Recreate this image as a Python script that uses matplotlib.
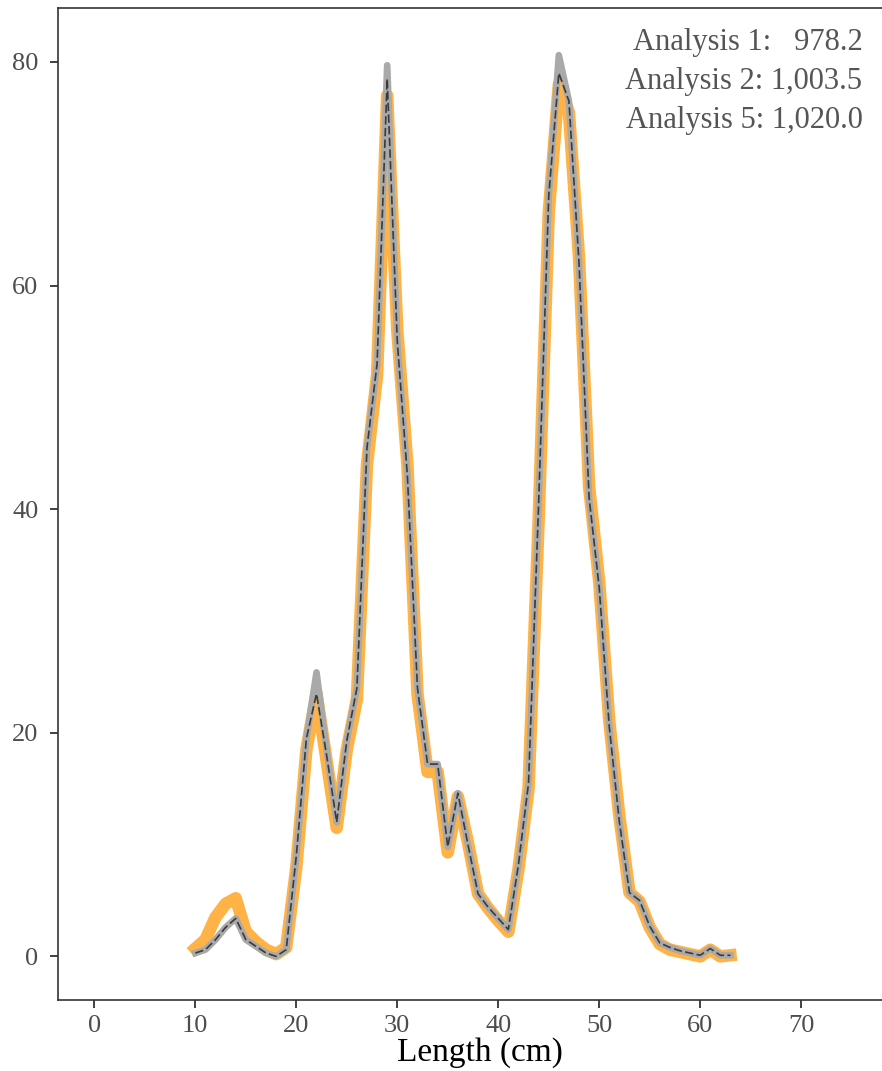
import matplotlib
matplotlib.use("Agg")
import matplotlib.pyplot as plt

# length classes (cm)
length = list(range(10, 64))

# length frequencies for the three analyses
analysis_1 = [0.7, 1.5, 3.5, 4.7, 5.2, 2.2, 1.3, 0.6, 0.2, 0.8,
              8.0, 18.5, 23.5, 17.5, 11.5, 18.5, 23.0, 44.0, 52.0, 77.0,
              56.0, 44.0, 23.5, 16.5, 16.5, 9.3, 14.3, 10.2, 5.6, 4.3,
              3.2, 2.2, 7.8, 15.0, 39.0, 66.5, 78.0, 75.5, 62.5, 42.0,
              33.5, 21.0, 12.5, 5.7, 4.9, 2.6, 1.1, 0.6, 0.4, 0.2,
              0.0, 0.6, 0.0, 0.1]
analysis_2 = [0.3, 0.6, 1.5, 2.6, 3.4, 1.5, 0.9, 0.3, 0.0, 0.6,
              9.0, 19.5, 25.4, 18.5, 12.0, 19.3, 24.0, 45.5, 53.0, 79.7,
              55.0, 43.0, 24.0, 17.2, 17.2, 9.8, 14.6, 10.0, 5.6, 4.4,
              3.4, 2.4, 8.2, 15.5, 40.5, 68.0, 80.6, 76.5, 62.0, 41.0,
              33.0, 20.5, 12.0, 5.7, 5.0, 2.7, 1.2, 0.8, 0.5, 0.3,
              0.1, 0.7, 0.1, 0.1]
analysis_5 = [0.3, 0.6, 1.5, 2.6, 3.4, 1.5, 0.9, 0.3, 0.0, 0.6,
              9.0, 19.5, 23.5, 18.0, 12.0, 19.3, 24.0, 45.5, 53.0, 78.5,
              55.0, 43.0, 24.0, 17.2, 17.2, 9.8, 14.6, 10.0, 5.6, 4.4,
              3.4, 2.4, 8.2, 15.5, 40.5, 68.0, 79.0, 76.5, 62.0, 41.0,
              33.0, 20.5, 12.0, 5.7, 5.0, 2.7, 1.2, 0.8, 0.5, 0.3,
              0.1, 0.7, 0.1, 0.1]

totals = ["Analysis 1:   978.2", "Analysis 2: 1,003.5", "Analysis 5: 1,020.0"]
x_ticks = [0, 10, 20, 30, 40, 50, 60, 70]
y_ticks = [0, 20, 40, 60, 80]

plt.rcParams["font.family"] = ["Liberation Serif", "DejaVu Serif"]

fig = plt.figure(figsize=(8.82, 10.71), dpi=100)
ax = fig.add_axes([0.0658, 0.0663, 0.957, 0.926])

ax.plot(length, analysis_1, color="#FFB347", lw=9, solid_joinstyle="round")
ax.plot(length, analysis_2, color="#A9A9A9", lw=4.8, solid_joinstyle="round")
ax.plot(length, analysis_5, color="#3a3a3a", lw=1.2, ls=(0, (5, 2)))

ax.set_xlim(-3.6, 80.0)
ax.set_ylim(-3.9, 84.8)
ax.set_xticks(x_ticks)
ax.set_yticks(y_ticks)
ax.tick_params(labelsize=19, labelcolor="#4d4d4d", color="#333333",
               length=6, width=1.3)
ax.tick_params(axis="y", pad=8)
ax.tick_params(axis="x", pad=5)
for s in ax.spines.values():
    s.set_color("#333333")
    s.set_linewidth(1.2)

ax.set_xlabel("Length (cm)", fontsize=24, color="black", labelpad=0)

for i, t in enumerate(totals):
    ax.text(0.953, 0.965 - i * 0.039, t, transform=ax.transAxes,
            ha="right", va="center", fontsize=22, color="#555555")

fig.savefig("out.png", dpi=100)
